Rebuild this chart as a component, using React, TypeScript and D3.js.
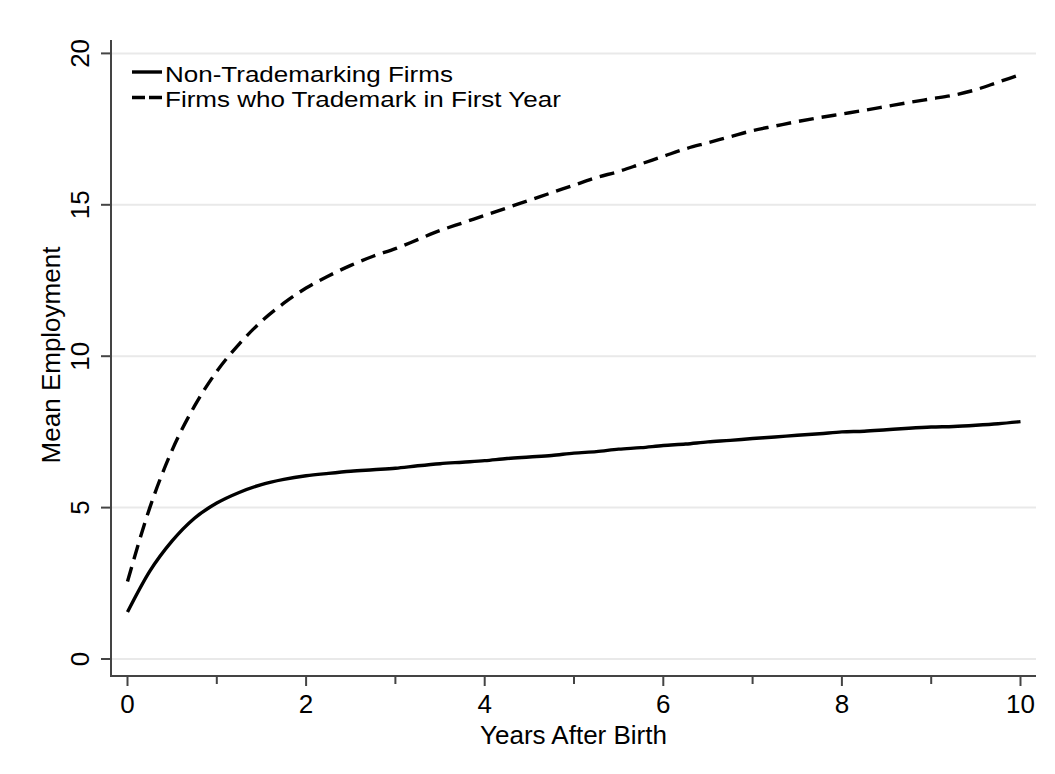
import React from 'react';
import * as d3 from 'd3';

const years = [
  0, 0.25, 0.5, 0.75, 1, 1.25, 1.5, 1.75, 2, 2.25, 2.5, 2.75, 3, 3.25, 3.5, 3.75, 4, 4.25, 4.5, 4.75,
  5, 5.25, 5.5, 5.75, 6, 6.25, 6.5, 6.75, 7, 7.25, 7.5, 7.75, 8, 8.25, 8.5, 8.75, 9, 9.25, 9.5, 9.75, 10
];

const nonTrademark = [
  1.55, 2.9, 3.9, 4.65, 5.15, 5.5, 5.76, 5.93, 6.05, 6.13, 6.2, 6.25, 6.3, 6.38, 6.45, 6.5, 6.55, 6.62, 6.67, 6.72,
  6.8, 6.85, 6.93, 6.98, 7.05, 7.1, 7.17, 7.22, 7.28, 7.33, 7.39, 7.44, 7.5, 7.52, 7.57, 7.62, 7.66, 7.68, 7.72, 7.77, 7.84
];

const firstYearTrademark = [
  2.56, 5.0, 6.9, 8.35, 9.5, 10.4, 11.15, 11.75, 12.25, 12.65, 13.0, 13.3, 13.55, 13.85, 14.15, 14.4, 14.65, 14.9, 15.15, 15.4,
  15.65, 15.9, 16.1, 16.35, 16.6, 16.85, 17.05, 17.25, 17.45, 17.6, 17.75, 17.88, 18.0, 18.12, 18.25, 18.38, 18.5, 18.62, 18.8, 19.05, 19.3
];

const xTicks = [0, 2, 4, 6, 8, 10];
const xMinorTicks = [1, 3, 5, 7, 9];
const yTicks = [0, 5, 10, 15, 20];

const seriesNames = ['Non-Trademarking Firms', 'Firms who Trademark in First Year'];
const xTitle = 'Years After Birth';
const yTitle = 'Mean Employment';

const W = 1055;
const H = 774;
const frame = { left: 111, right: 1036, top: 40, bottom: 676 };
const font = '"Liberation Sans", Arial, Helvetica, sans-serif';
const axisColor = '#444';
const fs = 26;
// legend text is a little wider than tall in the original
const legendFs = 22;
const legendStretch = 26 / 22;

export default function App() {
  const x = d3.scaleLinear().domain([0, 10]).range([127.5, 1020.5]);
  const y = d3.scaleLinear().domain([0, 20]).range([659, 53.4]);

  const line = d3.line<number>()
    .x((_, i) => x(years[i]))
    .y(d => y(d))
    .curve(d3.curveMonotoneX);

  return (
    <div style={{ position: 'absolute', left: 0, top: 0 }}>
      <svg width={W} height={H} style={{ display: 'block', background: '#fff' }} fontFamily={font}>
        {/* grid */}
        {yTicks.map(t => (
          <line key={'g' + t} x1={frame.left} x2={frame.right} y1={y(t)} y2={y(t)} stroke="#e9e9e9" strokeWidth={2} />
        ))}

        {/* series */}
        <path d={line(nonTrademark) || ''} fill="none" stroke="#000" strokeWidth={3.4} strokeLinejoin="round" />
        <path d={line(firstYearTrademark) || ''} fill="none" stroke="#000" strokeWidth={3.4}
          strokeDasharray="15,8" strokeLinejoin="round" />

        {/* y axis */}
        <line x1={frame.left} x2={frame.left} y1={frame.top} y2={frame.bottom + 1} stroke={axisColor} strokeWidth={2} />
        {yTicks.map(t => (
          <g key={'y' + t}>
            <line x1={frame.left - 10} x2={frame.left} y1={y(t)} y2={y(t)} stroke={axisColor} strokeWidth={2} />
            <text transform={`translate(${frame.left - 22.5},${y(t)}) rotate(-90)`} textAnchor="middle"
              fontSize={fs} fill="#000">{t}</text>
          </g>
        ))}
        <text transform={`translate(59.5,${(frame.top + frame.bottom) / 2 - 3}) rotate(-90)`} textAnchor="middle"
          fontSize={fs} fill="#000">{yTitle}</text>

        {/* x axis */}
        <line x1={frame.left - 1} x2={frame.right} y1={frame.bottom} y2={frame.bottom} stroke={axisColor} strokeWidth={2} />
        {xTicks.map(t => (
          <g key={'x' + t}>
            <line x1={x(t)} x2={x(t)} y1={frame.bottom} y2={frame.bottom + 10} stroke={axisColor} strokeWidth={2} />
            <text x={x(t)} y={713} textAnchor="middle" fontSize={fs} fill="#000">{t}</text>
          </g>
        ))}
        {xMinorTicks.map(t => (
          <line key={'m' + t} x1={x(t)} x2={x(t)} y1={frame.bottom} y2={frame.bottom + 8} stroke={axisColor} strokeWidth={2} />
        ))}
        <text x={(frame.left + frame.right) / 2} y={743.5} textAnchor="middle" fontSize={fs} fill="#000">{xTitle}</text>

        {/* legend */}
        <line x1={132} x2={162} y1={72} y2={72} stroke="#000" strokeWidth={3.4} />
        <text transform={`translate(165,81.5) scale(${legendStretch},1)`} fontSize={legendFs} fill="#000">{seriesNames[0]}</text>
        <line x1={132} x2={162} y1={97.5} y2={97.5} stroke="#000" strokeWidth={3.4} strokeDasharray="13,4" />
        <text transform={`translate(165,107) scale(${legendStretch},1)`} fontSize={legendFs} fill="#000">{seriesNames[1]}</text>
      </svg>
    </div>
  );
}
